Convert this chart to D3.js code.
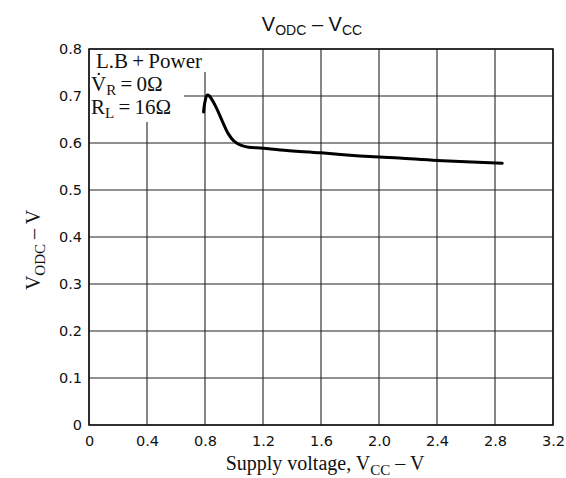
<!DOCTYPE html>
<html><head><meta charset="utf-8">
<script src="https://cdn.jsdelivr.net/npm/d3@7"></script>
<style>body{margin:0;background:#fff}</style>
</head><body>
<svg id="c" width="566" height="478"></svg>
<script>
const xTicks = [0, 0.4, 0.8, 1.2, 1.6, 2.0, 2.4, 2.8, 3.2];
const xTickLabels = ["0", "0.4", "0.8", "1.2", "1.6", "2.0", "2.4", "2.8", "3.2"];
const yTicks = [0, 0.1, 0.2, 0.3, 0.4, 0.5, 0.6, 0.7, 0.8];
const yTickLabels = ["0", "0.1", "0.2", "0.3", "0.4", "0.5", "0.6", "0.7", "0.8"];
const vcc  = [0.79, 0.80, 0.815, 0.83, 0.87, 0.92, 0.96, 1.0, 1.05, 1.1, 1.2, 1.32, 1.6, 1.8, 2.0, 2.14, 2.4, 2.85];
const vodc = [0.666, 0.688, 0.702, 0.700, 0.680, 0.646, 0.620, 0.604, 0.595, 0.591, 0.589, 0.585, 0.579, 0.574, 0.570, 0.568, 0.563, 0.557];

const svg = d3.select("#c");
const L = 89, R = 553, T = 49, B = 425;
const x = d3.scaleLinear().domain([0, 3.2]).range([L, R]);
const y = d3.scaleLinear().domain([0, 0.8]).range([B, T]);

// gridlines
const grid = svg.append("g").attr("stroke", "#222").attr("stroke-width", 1.1);
grid.selectAll("line.v").data(xTicks).join("line")
  .attr("x1", d => x(d)).attr("x2", d => x(d)).attr("y1", T).attr("y2", B);
grid.selectAll("line.h").data(yTicks).join("line")
  .attr("y1", d => y(d)).attr("y2", d => y(d)).attr("x1", L).attr("x2", R);

// white areas behind annotation
svg.append("rect").attr("x", L + 1).attr("y", T + 1).attr("width", 94).attr("height", 72).attr("fill", "#fff");
svg.append("rect").attr("x", L + 1).attr("y", T + 1).attr("width", 126).attr("height", 22).attr("fill", "#fff");

// border
svg.append("rect").attr("x", L).attr("y", T).attr("width", R - L).attr("height", B - T)
  .attr("fill", "none").attr("stroke", "#111").attr("stroke-width", 1.5);

// axes (labels only)
const xAxis = d3.axisBottom(x).tickValues(xTicks).tickFormat((d, i) => xTickLabels[i]).tickSize(0).tickPadding(11);
const gx = svg.append("g").attr("transform", `translate(0,${B})`).call(xAxis);
const yAxis = d3.axisLeft(y).tickValues(yTicks).tickFormat((d, i) => yTickLabels[i]).tickSize(0).tickPadding(7);
const gy = svg.append("g").attr("transform", `translate(${L},0)`).call(yAxis);
[gx, gy].forEach(g => {
  g.select(".domain").remove();
  g.selectAll("text").attr("font-family", "DejaVu Sans").attr("font-size", 14.5).attr("fill", "#111");
});

// curve
const line = d3.line().x(d => x(d[0])).y(d => y(d[1])).curve(d3.curveCatmullRom.alpha(0.5));
svg.append("path").datum(vcc.map((v, i) => [v, vodc[i]]))
  .attr("d", line).attr("fill", "none").attr("stroke", "#000").attr("stroke-width", 3)
  .attr("stroke-linecap", "round").attr("stroke-linejoin", "round");

// title
const title = svg.append("text").attr("x", 312).attr("y", 31).attr("text-anchor", "middle")
  .attr("font-family", "Liberation Sans").attr("font-size", 20).attr("fill", "#111");
title.append("tspan").text("V");
title.append("tspan").attr("font-size", 14).attr("dy", 4).text("ODC");
title.append("tspan").attr("dy", -4).text(" \u2013 V");
title.append("tspan").attr("font-size", 14).attr("dy", 4).text("CC");

// x axis title
const xt = svg.append("text").attr("x", 325).attr("y", 470).attr("text-anchor", "middle")
  .attr("font-family", "Liberation Serif").attr("font-size", 20).attr("fill", "#111");
xt.append("tspan").text("Supply voltage, V");
xt.append("tspan").attr("font-size", 15).attr("dy", 5).text("CC");
xt.append("tspan").attr("dy", -5).text(" \u2013 V");

// y axis title
const yt = svg.append("text").attr("transform", "translate(40,250) rotate(-90)").attr("text-anchor", "middle")
  .attr("font-family", "Liberation Serif").attr("font-size", 20).attr("fill", "#111");
yt.append("tspan").text("V");
yt.append("tspan").attr("font-size", 15).attr("dy", 5).text("ODC");
yt.append("tspan").attr("dy", -5).text(" \u2013 V");

// annotation
const ann = svg.append("g").attr("font-family", "Liberation Serif").attr("font-size", 21).attr("fill", "#111");
ann.append("text").attr("x", 96).attr("y", 68).text("L.B\u2009+\u2009Power");
const a2 = ann.append("text").attr("x", 91).attr("y", 91);
a2.append("tspan").text("V\u0307");
a2.append("tspan").attr("font-size", 15).attr("dy", 4).text("R");
a2.append("tspan").attr("dy", -4).text("\u2009=\u20090\u03A9");
const a3 = ann.append("text").attr("x", 91).attr("y", 114);
a3.append("tspan").text("R");
a3.append("tspan").attr("font-size", 15).attr("dy", 4).text("L");
a3.append("tspan").attr("dy", -4).text("\u2009=\u200916\u03A9");
</script>
</body></html>
